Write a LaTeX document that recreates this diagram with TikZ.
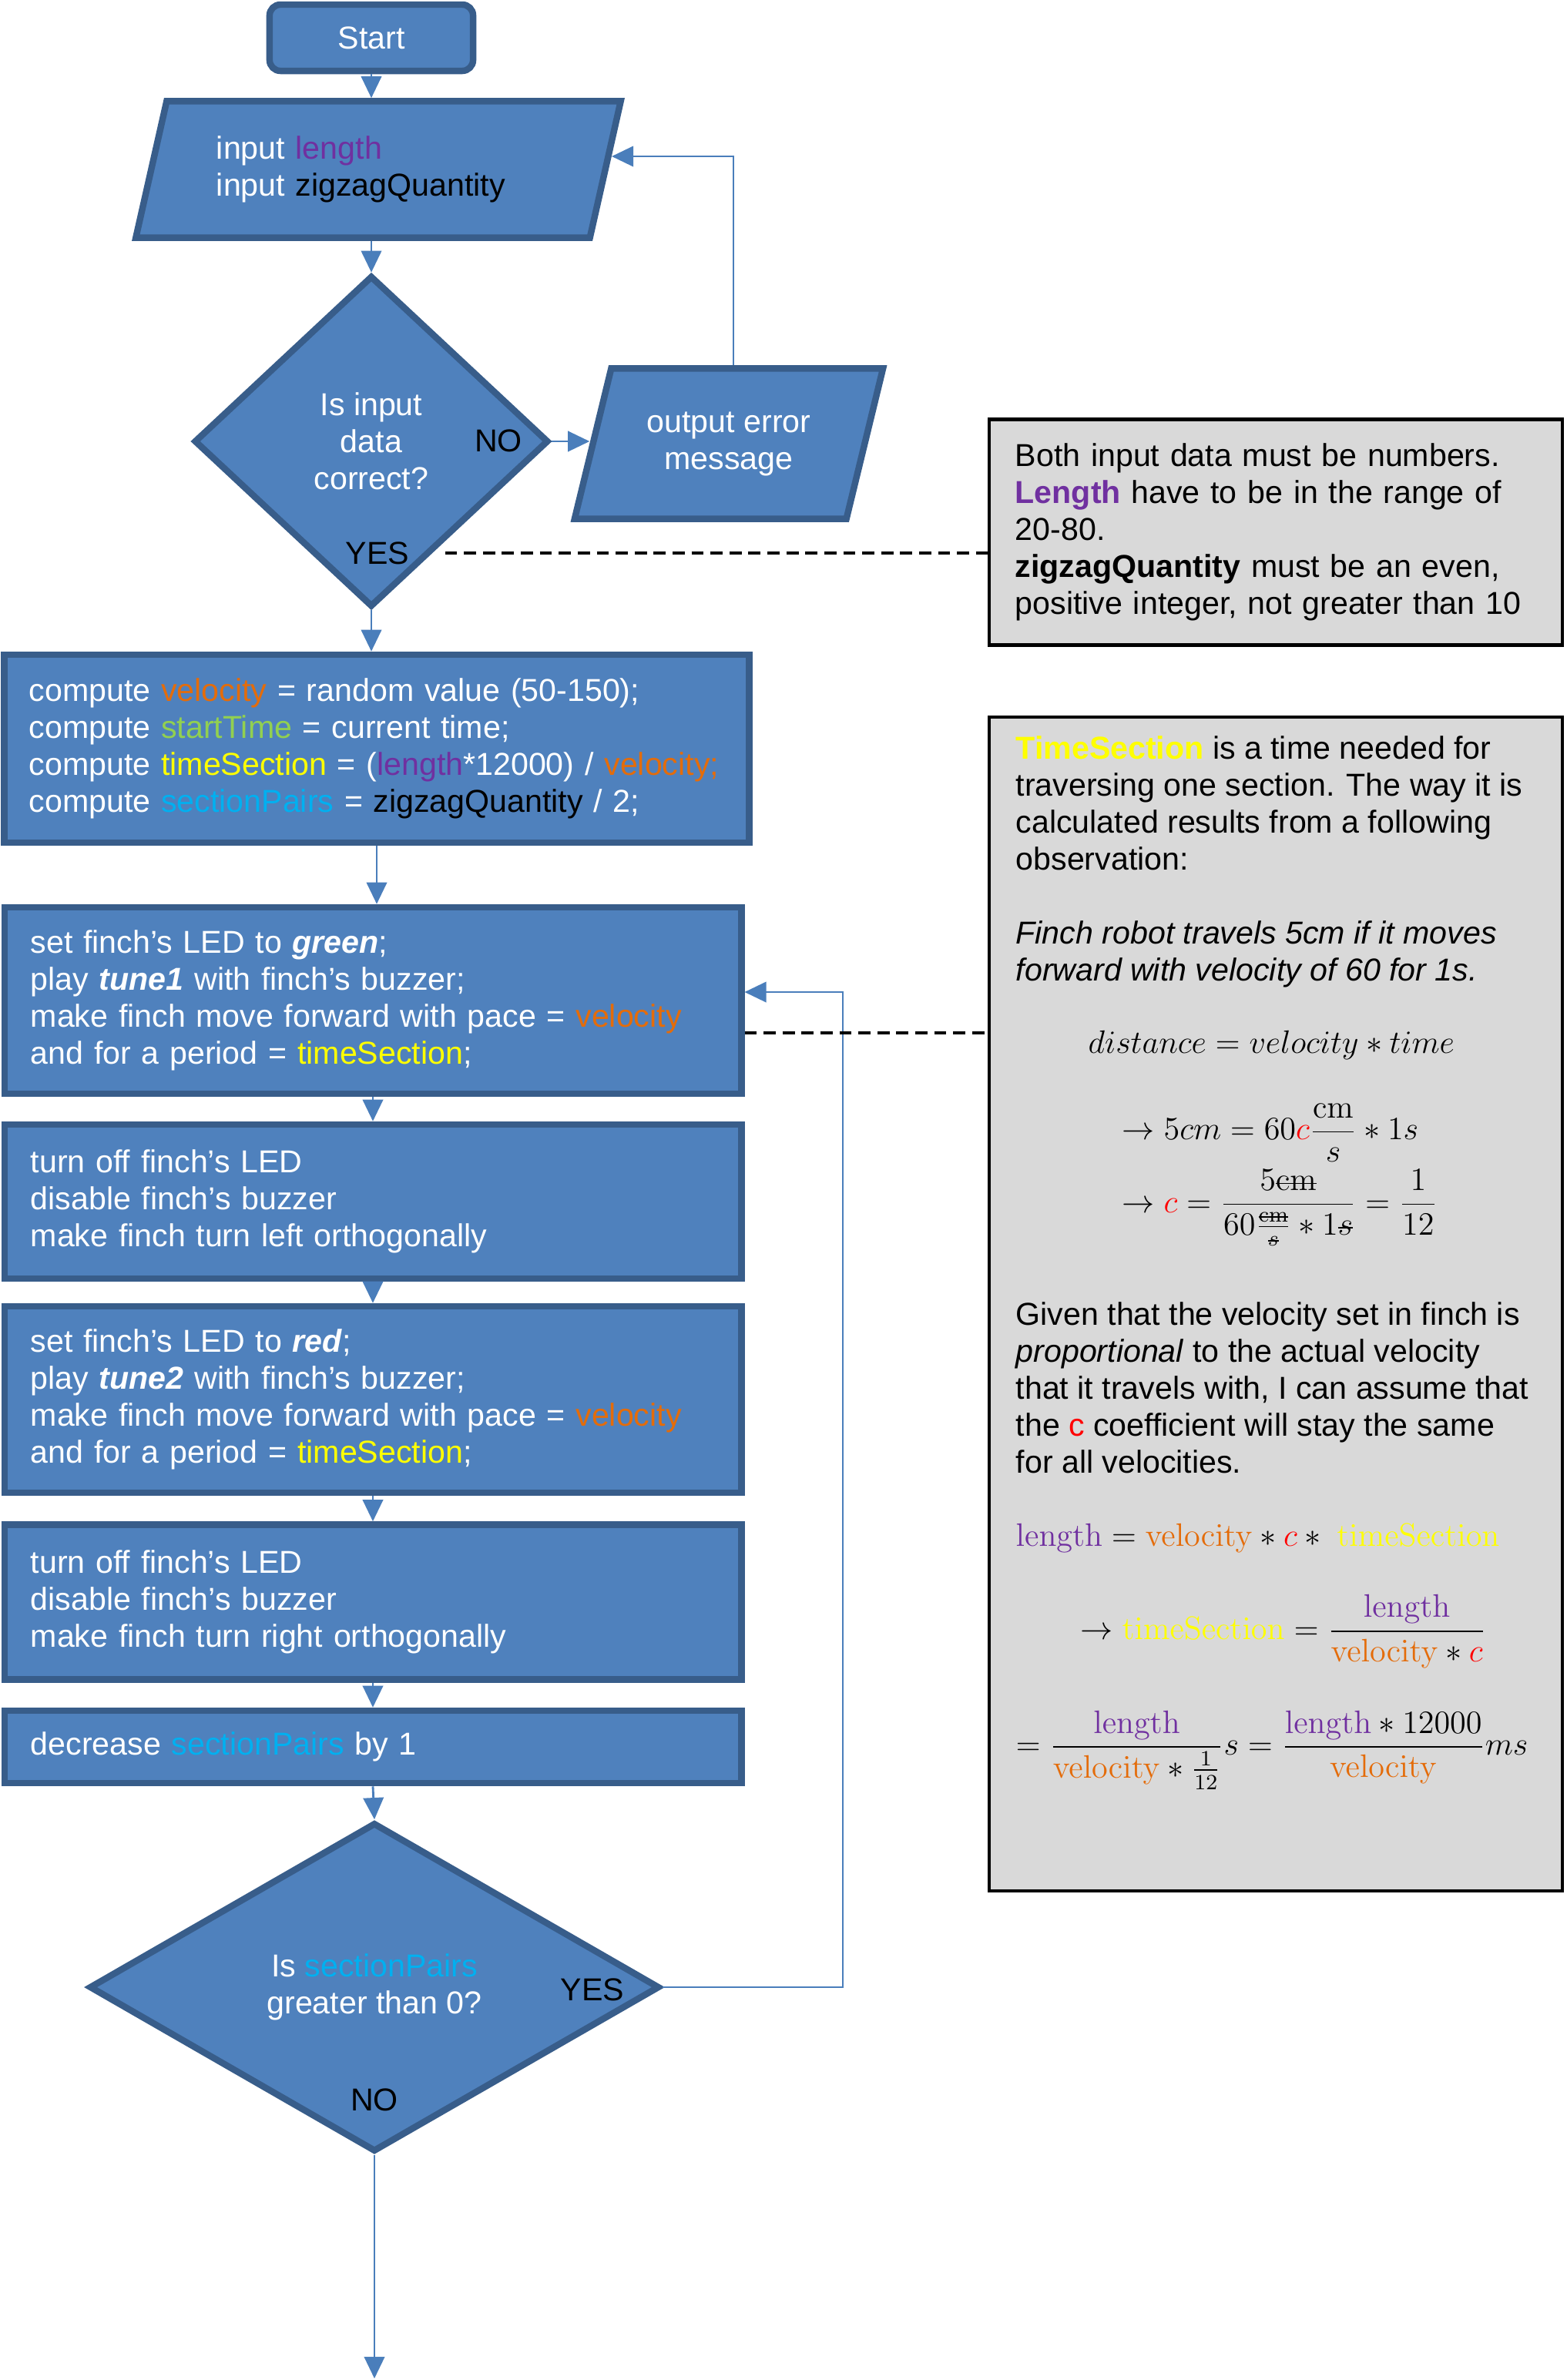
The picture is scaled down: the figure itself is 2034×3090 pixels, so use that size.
\documentclass[tikz,border=0pt]{standalone}
\usepackage{amsmath}
\usepackage[no-math]{fontspec}
\setmainfont{Liberation Sans}
\usepackage{xcolor}
\usepackage{tikz}
\usetikzlibrary{shapes.geometric, arrows.meta, calc}

\definecolor{boxblue}{RGB}{79,129,189}
\definecolor{boxline}{RGB}{56,93,138}
\definecolor{lineblue}{RGB}{74,126,187}
\definecolor{notegray}{RGB}{217,217,217}
\definecolor{lenc}{RGB}{112,48,160}
\definecolor{velc}{RGB}{228,108,10}
\definecolor{stc}{RGB}{146,208,80}
\definecolor{tsc}{RGB}{255,255,0}
\definecolor{spc}{RGB}{0,176,240}
\definecolor{cred}{RGB}{255,0,0}

\newcommand{\lenw}{\textcolor{lenc}{length}}
\newcommand{\velw}{\textcolor{velc}{velocity}}
\newcommand{\stw}{\textcolor{stc}{startTime}}
\newcommand{\tsw}{\textcolor{tsc}{timeSection}}
\newcommand{\spw}{\textcolor{spc}{sectionPairs}}
\newcommand{\mlen}{\textcolor{lenc}{\mathrm{length}}}
\newcommand{\mvel}{\textcolor{velc}{\mathrm{velocity}}}
\newcommand{\mts}{\textcolor{tsc}{\mathrm{timeSection}}}
\newcommand{\cco}{\textcolor{cred}{c}}
\newcommand{\strk}[2][\textstyle]{{\setbox0=\hbox{$#1#2$}\rlap{\rule[.45\ht0]{\wd0}{.5pt}}\box0}}

\begin{document}
\begin{tikzpicture}%
    [x=0.01cm, y=-0.01cm,
    font=\fontsize{11.7}{13.66}\selectfont,
    startbox/.style={rectangle, rounded corners=4pt, draw=boxline, line width=2.4pt, fill=boxblue, text=white},
    iobox/.style={trapezium, trapezium stretches body,
                  draw=boxline, line width=2.4pt, fill=boxblue, text=white},
    procbox/.style={rectangle, draw=boxline, line width=2.4pt, fill=boxblue, text=white, align=left,
                    inner xsep=0.34cm, text width=8.88cm},
    decbox/.style={diamond, draw=boxline, line width=2.4pt, fill=boxblue, text=white, align=center, inner sep=0pt},
    lbl/.style={text=black, inner sep=1pt},
    arr/.style={draw=lineblue, line width=0.8pt, -{Triangle[length=8pt,width=7.5pt]}},
    notelink/.style={draw=black, line width=1.2pt, dash pattern=on 4.5pt off 2.5pt},
    note/.style={rectangle, draw=black, line width=1.2pt, fill=notegray, text=black},
    notetext/.style={inner sep=0pt, align=left, text=black},
    notemath/.style={inner sep=0pt, text=black, font=\fontsize{12}{14.4}\selectfont}]
    \useasboundingbox (0,0) rectangle (2034,3090);

    %% Main flow
    \node[startbox, minimum width=2.64cm, minimum height=0.86cm] (start) at (482,49) {Start};
    \node[iobox, trapezium left angle=70, trapezium right angle=110, minimum width=6.29cm, minimum height=1.77cm,
          text width=4.2cm, align=left] (input) at (491,220)
        {input \lenw\\input \textcolor{black}{zigzagQuantity}};
    \node[decbox, minimum width=4.60cm, minimum height=4.30cm] (d1) at (482,573) {Is input\\data\\correct?};
    \node[iobox, trapezium left angle=66, trapezium right angle=114, minimum width=4.00cm, minimum height=1.95cm,
          align=center] (error) at (946,576)
        {output error\\message};
    \node[lbl] (no1) at (647,572) {NO};
    \node[lbl] (yes1) at (490,718) {YES};

    \node[procbox, inner xsep=0.32cm, text width=9.02cm, minimum height=2.44cm] (compute) at (489,972)
        {compute \velw{} = random value (50-150);\\
         compute \stw{} = current time;\\
         compute \tsw{} = (\lenw*12000) / \textcolor{velc}{velocity;}\\
         compute \spw{} = \textcolor{black}{zigzagQuantity} / 2;};
    \node[procbox, minimum height=2.42cm] (green) at (484,1299)
        {set finch’s LED to \textbf{\textit{green}};\\
         play \textbf{\textit{tune1}} with finch’s buzzer;\\
         make finch move forward with pace = \velw\\
         and for a period = \tsw;};
    \node[procbox, minimum height=2.00cm] (turnl) at (484,1560)
        {turn off finch’s LED\\disable finch’s buzzer\\make finch turn left orthogonally};
    \node[procbox, minimum height=2.42cm] (setred) at (484,1817)
        {set finch’s LED to \textbf{\textit{red}};\\
         play \textbf{\textit{tune2}} with finch’s buzzer;\\
         make finch move forward with pace = \velw\\
         and for a period = \tsw;};
    \node[procbox, minimum height=2.01cm] (turnr) at (484,2080)
        {turn off finch’s LED\\disable finch’s buzzer\\make finch turn right orthogonally};
    \node[procbox, minimum height=0.94cm] (decr) at (484,2268) {decrease \spw{} by 1};
    \node[decbox, minimum width=7.40cm, minimum height=4.27cm] (d2) at (486,2580)
        {Is \spw\\greater than 0?};
    \node[lbl] (yes2) at (769,2583) {YES};
    \node[lbl] (no2) at (486,2726) {NO};
    \coordinate (loopc) at (1094,1288);
    \coordinate (endc) at (488,3088);

    %% Connectors
    \draw[arr] (start.south) -- (start.south |- input.north);
    \draw[arr] (d1.north |- input.south) -- (d1.north);
    \draw[arr] (d1.east) -- (d1.east -| error.west);
    \draw[arr] ([xshift=0.06cm]error.north) |- ($(input.east)+(4,-17)$);
    \draw[arr] (d1.south) -- (d1.south |- compute.north);
    \draw[arr] (compute.south) -- (compute.south |- green.north);
    \draw[arr] (green.south) -- (turnl.north);
    \draw[arr] (turnl.south) -- (setred.north);
    \draw[arr] (setred.south) -- (turnr.north);
    \draw[arr] (turnr.south) -- (decr.north);
    \draw[arr] (decr.south) -- (d2.north);
    \draw[arr] (d2.east) -| (loopc) -- (loopc -| green.east);
    \draw[arr] (d2.south) -- (d2.south |- endc);

    %% Notes
    \node[note, text width=6.76cm, inner xsep=0.34cm, minimum height=2.93cm, align=left] (note1) at (1656,691)
        {Both input data must be numbers.\\
         \textcolor{lenc}{\textbf{Length}} have to be in the range of\\
         20-80.\\
         \textbf{zigzagQuantity} must be an even,\\
         positive integer, not greater than 10};
    \node[note, minimum width=7.44cm, minimum height=15.23cm] (note2) at (1656,1693) {};
    \node[notetext, anchor=north west] (tdef) at (1318,955)
        {\textcolor{tsc}{\textbf{TimeSection}} is a time needed for\\
         traversing one section. The way it is\\
         calculated results from a following\\
         observation:};
    \node[notetext, anchor=north west, font=\fontsize{11.7}{13.66}\selectfont\itshape] (tobs) at (1318,1195)
        {Finch robot travels 5cm if it moves\\forward with velocity of 60 for 1s.};
    \node[notemath, anchor=west] (eqdist) at (1412,1357) {$distance = velocity * time$};
    \node[notemath, anchor=west] (eqc1) at (1456,1471)
        {$\displaystyle \rightarrow 5cm = 60\cco\frac{\mathrm{cm}}{s} * 1s$};
    \node[notemath, anchor=west] (eqc2) at (1456,1568)
        {$\displaystyle \rightarrow \cco = \frac{5\strk{\mathrm{cm}}}{60\frac{\strk[\scriptstyle]{\mathrm{cm}}}{\strk[\scriptstyle]{s}} * 1\strk{s}} = \frac{1}{12}$};
    \node[notetext, anchor=north west] (tprop) at (1318,1690)
        {Given that the velocity set in finch is\\
         \textit{proportional} to the actual velocity\\
         that it travels with, I can assume that\\
         the \textcolor{cred}{c} coefficient will stay the same\\
         for all velocities.};
    \node[notemath, anchor=west] (eqlen) at (1318,1997) {$\mlen = \mvel * \cco *\ \mts$};
    \node[notemath, anchor=west] (eqts) at (1402,2118)
        {$\displaystyle \rightarrow \mts = \frac{\mlen}{\mvel * \cco}$};
    \node[notemath, anchor=west] (eqfin) at (1318,2272)
        {$\displaystyle = \frac{\mlen}{\mvel * \frac{1}{12}}s = \frac{\mlen * 12000}{\mvel}ms$};

    \draw[notelink] ([xshift=12pt]yes1.east) -- (yes1.east -| note1.west);
    \draw[notelink] ([yshift=-0.42cm]green.east) -- ([yshift=-0.42cm]green.east -| note2.west);
\end{tikzpicture}
\end{document}
